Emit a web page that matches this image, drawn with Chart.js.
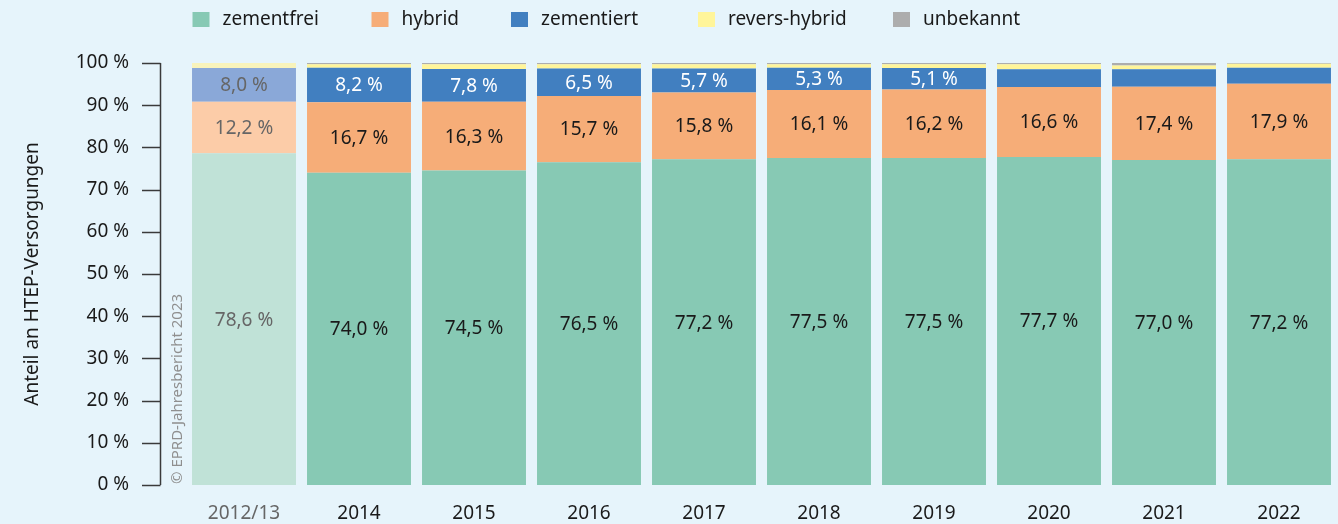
<!DOCTYPE html>
<html>
<head>
<meta charset="utf-8">
<script src="https://cdn.jsdelivr.net/npm/chart.js@4/dist/chart.umd.min.js"></script>
<style>
  html, body { margin: 0; padding: 0; background: #e6f4fb; overflow: hidden; }
  canvas { display: block; }
</style>
</head>
<body>
<canvas id="c" width="1338" height="524" style="width:1338px;height:524px"></canvas>
<script>
const categories = ['2012/13', '2014', '2015', '2016', '2017', '2018', '2019', '2020', '2021', '2022'];
const zementfrei   = [78.6, 74.0, 74.5, 76.5, 77.2, 77.5, 77.5, 77.7, 77.0, 77.2];
const hybrid       = [12.2, 16.7, 16.3, 15.7, 15.8, 16.1, 16.2, 16.6, 17.4, 17.9];
const zementiert   = [8.0, 8.2, 7.8, 6.5, 5.7, 5.3, 5.1, 4.2, 4.1, 3.8];
const reversHybrid = [1.2, 0.8, 1.1, 1.0, 1.0, 0.8, 0.9, 1.2, 0.9, 0.9];
const unbekannt    = [0.0, 0.3, 0.3, 0.3, 0.3, 0.3, 0.3, 0.3, 0.6, 0.2];
const seriesNames  = ['zementfrei', 'hybrid', 'zementiert', 'revers-hybrid', 'unbekannt'];
const yTicks       = [0, 10, 20, 30, 40, 50, 60, 70, 80, 90, 100];

const FONT = '"Noto Sans", sans-serif';
const baseColors  = ['#87c9b4', '#f6ad78', '#417fc0', '#fff59a', '#adadad'];
const fadedColors = ['#c0e2d7', '#fccca8', '#8aa8d8', '#f8f3bb', '#d4d4d4'];
const labelColors = ['#1a1a1a', '#1a1a1a', '#ffffff', '#1a1a1a', '#1a1a1a'];
const fadedLabel = '#666666';

const allSeries = [zementfrei, hybrid, zementiert, reversHybrid, unbekannt];

const datasets = allSeries.map((vals, si) => ({
  label: seriesNames[si],
  data: vals,
  backgroundColor: categories.map((c, i) => i === 0 ? fadedColors[si] : baseColors[si]),
  borderWidth: 0,
  barPercentage: 0.904,
  categoryPercentage: 1.0,
  stack: 's'
}));

const fmt = v => v.toFixed(1).replace('.', ',') + ' %';

const customDraw = {
  id: 'customDraw',
  afterDatasetsDraw(chart) {
    const ctx = chart.ctx;
    ctx.save();
    ctx.font = '19px ' + FONT;
    ctx.textAlign = 'center';
    ctx.textBaseline = 'middle';
    chart.data.datasets.forEach((ds, si) => {
      const meta = chart.getDatasetMeta(si);
      meta.data.forEach((el, i) => {
        const v = ds.data[i];
        if (v < 5) return;
        const props = el.getProps(['x', 'y', 'base'], true);
        ctx.fillStyle = i === 0 ? fadedLabel : labelColors[si];
        ctx.fillText(fmt(v), props.x, (props.y + props.base) / 2 + 1);
      });
    });
    ctx.restore();
  },
  afterDraw(chart) {
    const ctx = chart.ctx;
    const y = chart.scales.y;
    ctx.save();
    ctx.strokeStyle = '#3a3a3a';
    ctx.lineWidth = 1.5;
    const ax = 160.5;
    ctx.beginPath();
    ctx.moveTo(ax, y.getPixelForValue(100));
    ctx.lineTo(ax, y.getPixelForValue(0));
    ctx.stroke();
    yTicks.forEach(t => {
      const py = Math.round(y.getPixelForValue(t)) + 0.5;
      ctx.beginPath();
      ctx.moveTo(142, py);
      ctx.lineTo(ax, py);
      ctx.stroke();
    });
    ctx.save();
    ctx.translate(178, y.getPixelForValue(0) - 1);
    ctx.rotate(-Math.PI / 2);
    ctx.font = '15px ' + FONT;
    ctx.fillStyle = '#8f8f8f';
    ctx.textAlign = 'left';
    ctx.textBaseline = 'middle';
    ctx.fillText('© EPRD-Jahresbericht 2023', 0, 0);
    ctx.restore();
    const legendX = [192.5, 371.5, 511, 698, 893];
    ctx.font = '19px ' + FONT;
    ctx.textBaseline = 'middle';
    ctx.textAlign = 'left';
    seriesNames.forEach((n, i) => {
      ctx.fillStyle = baseColors[i];
      ctx.fillRect(legendX[i], 12, 17, 15);
      ctx.fillStyle = '#1a1a1a';
      ctx.fillText(n, legendX[i] + 30, 19.5);
    });
    ctx.restore();
  }
};

new Chart(document.getElementById('c'), {
  type: 'bar',
  data: { labels: categories, datasets },
  plugins: [customDraw],
  options: {
    responsive: false,
    animation: false,
    devicePixelRatio: 1,
    layout: { padding: { top: 63, right: 1.5, left: 0, bottom: 0 } },
    plugins: { legend: { display: false }, tooltip: { enabled: false } },
    scales: {
      x: {
        stacked: true,
        grid: { display: false, drawTicks: false },
        border: { display: false },
        ticks: {
          padding: 17,
          font: { family: FONT, size: 19 },
          color: ctx => ctx.index === 0 ? '#666666' : '#1a1a1a'
        },
        afterFit: s => { s.height = 39; }
      },
      y: {
        stacked: true,
        min: 0, max: 100,
        grid: { display: false, drawTicks: true, tickLength: 57.5 },
        border: { display: false },
        afterBuildTicks: s => { s.ticks = yTicks.map(v => ({ value: v })); },
        ticks: {
          padding: 0,
          font: { family: FONT, size: 19 },
          color: '#1a1a1a',
          callback: v => v + ' %'
        },
        title: {
          display: true,
          text: 'Anteil an HTEP-Versorgungen',
          font: { family: FONT, size: 19 },
          color: '#1a1a1a',
          padding: { top: 21.6, bottom: 0 }
        },
        afterFit: s => { s.width = 186.5; }
      }
    }
  }
});
</script>
</body>
</html>
